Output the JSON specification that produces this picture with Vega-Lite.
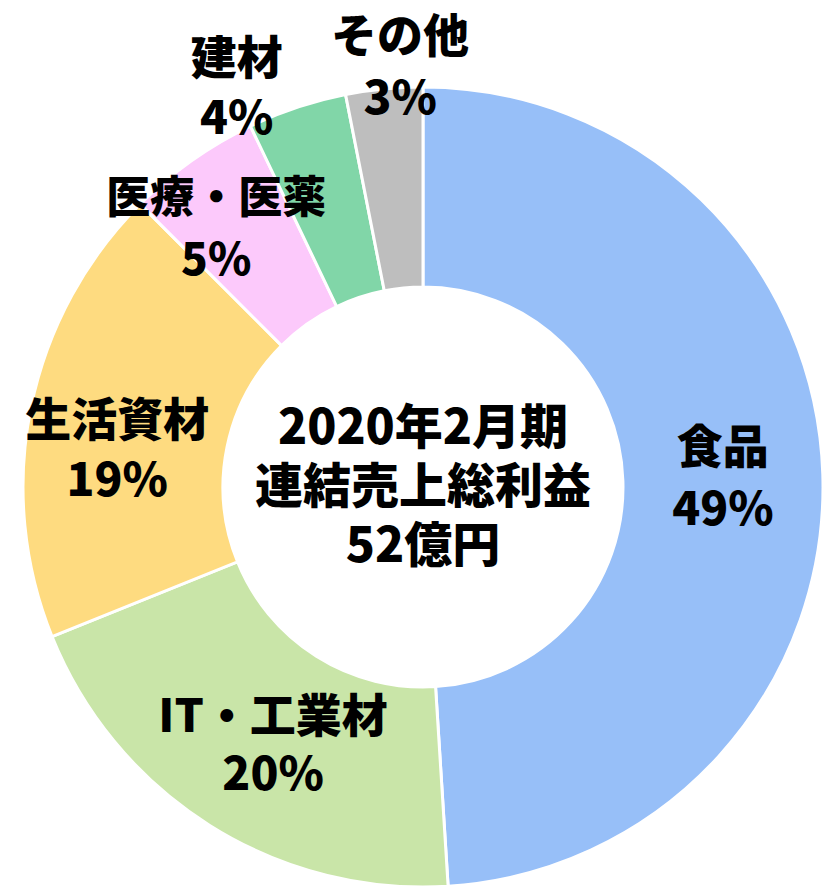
{
  "$schema": "https://vega.github.io/schema/vega-lite/v6.json",
  "width": 802,
  "height": 800,
  "autosize": {"type": "none"},
  "padding": {"left": 22, "top": 87, "right": 0, "bottom": 0},
  "background": "white",
  "config": {"view": {"stroke": null}},
  "data": {
    "values": [
      {"category": "食品", "share": 49.0, "label": "食品\n49%"},
      {"category": "IT・工業材", "share": 19.9, "label": "IT・工業材\n20%"},
      {"category": "生活資材", "share": 18.6, "label": "生活資材\n19%"},
      {"category": "医療・医薬", "share": 5.4, "label": "医療・医薬\n5%"},
      {"category": "建材", "share": 4.0, "label": "建材\n4%"},
      {"category": "その他", "share": 3.1, "label": "その他\n3%"}
    ]
  },
  "layer": [
    {
      "mark": {"type": "arc", "outerRadius": 400, "innerRadius": 200, "stroke": "white", "strokeWidth": 3},
      "encoding": {
        "theta": {"field": "share", "type": "quantitative", "stack": true},
        "order": {"field": "share", "type": "quantitative", "sort": "descending"},
        "color": {
          "field": "category",
          "type": "nominal",
          "legend": null,
          "scale": {
            "domain": ["食品", "IT・工業材", "生活資材", "医療・医薬", "建材", "その他"],
            "range": ["#97BFF8", "#C9E5A8", "#FEDB80", "#FCC9FB", "#81D6A8", "#BEBEBE"]
          }
        }
      }
    },
    {
      "mark": {"type": "text", "radius": 300, "dy": -29, "font": "Noto Sans CJK JP", "fontWeight": 900, "fontSize": 46, "lineBreak": "\n", "lineHeight": 62, "color": "black", "align": "center", "baseline": "middle"},
      "encoding": {
        "theta": {"field": "share", "type": "quantitative", "stack": true},
        "order": {"field": "share", "type": "quantitative", "sort": "descending"},
        "text": {"condition": {"test": "datum.category === '食品'", "field": "label"}, "value": ""}
      }
    },
    {
      "mark": {"type": "text", "radius": 300, "dx": 10, "dy": -23, "font": "Noto Sans CJK JP", "fontWeight": 900, "fontSize": 46, "lineBreak": "\n", "lineHeight": 58, "color": "black", "align": "center", "baseline": "middle"},
      "encoding": {
        "theta": {"field": "share", "type": "quantitative", "stack": true},
        "order": {"field": "share", "type": "quantitative", "sort": "descending"},
        "text": {"condition": {"test": "datum.category === 'IT・工業材'", "field": "label"}, "value": ""}
      }
    },
    {
      "mark": {"type": "text", "radius": 310, "dx": -2, "dy": -3, "font": "Noto Sans CJK JP", "fontWeight": 900, "fontSize": 46, "lineBreak": "\n", "lineHeight": 60, "color": "black", "align": "center", "baseline": "middle"},
      "encoding": {
        "theta": {"field": "share", "type": "quantitative", "stack": true},
        "order": {"field": "share", "type": "quantitative", "sort": "descending"},
        "text": {"condition": {"test": "datum.category === '生活資材'", "field": "label"}, "value": ""}
      }
    },
    {
      "mark": {"type": "text", "radius": 320, "dx": -22, "dy": -26, "font": "Noto Sans CJK JP", "fontWeight": 900, "fontSize": 44, "lineBreak": "\n", "lineHeight": 62, "color": "black", "align": "center", "baseline": "middle"},
      "encoding": {
        "theta": {"field": "share", "type": "quantitative", "stack": true},
        "order": {"field": "share", "type": "quantitative", "sort": "descending"},
        "text": {"condition": {"test": "datum.category === '医療・医薬'", "field": "label"}, "value": ""}
      }
    },
    {
      "mark": {"type": "text", "radius": 420, "dx": -54, "dy": -28, "font": "Noto Sans CJK JP", "fontWeight": 900, "fontSize": 46, "lineBreak": "\n", "lineHeight": 60, "color": "black", "align": "center", "baseline": "middle"},
      "encoding": {
        "theta": {"field": "share", "type": "quantitative", "stack": true},
        "order": {"field": "share", "type": "quantitative", "sort": "descending"},
        "text": {"condition": {"test": "datum.category === '建材'", "field": "label"}, "value": ""}
      }
    },
    {
      "mark": {"type": "text", "radius": 421, "dx": 18, "dy": -30, "font": "Noto Sans CJK JP", "fontWeight": 900, "fontSize": 46, "lineBreak": "\n", "lineHeight": 62, "color": "black", "align": "center", "baseline": "middle"},
      "encoding": {
        "theta": {"field": "share", "type": "quantitative", "stack": true},
        "order": {"field": "share", "type": "quantitative", "sort": "descending"},
        "text": {"condition": {"test": "datum.category === 'その他'", "field": "label"}, "value": ""}
      }
    },
    {
      "data": {"values": [{"title": "2020年2月期\n連結売上総利益\n52億円"}]},
      "mark": {"type": "text", "dy": -57, "font": "Noto Sans CJK JP", "fontWeight": 900, "fontSize": 48, "lineBreak": "\n", "lineHeight": 59, "color": "black", "align": "center", "baseline": "middle"},
      "encoding": {
        "text": {"field": "title", "type": "nominal"}
      }
    }
  ]
}
